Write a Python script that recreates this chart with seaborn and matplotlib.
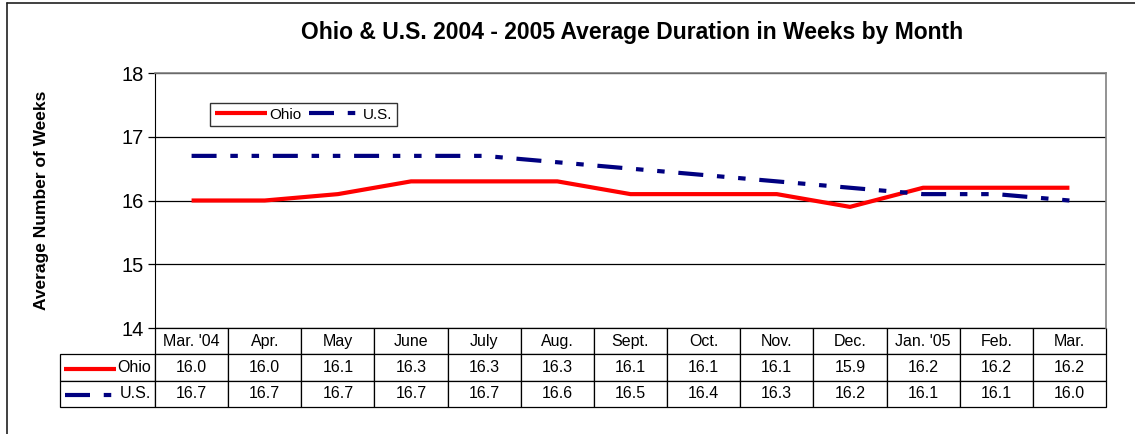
import matplotlib
matplotlib.use('Agg')
import matplotlib.pyplot as plt
import seaborn as sns
import pandas as pd

# chart data
months = ["Mar. '04", 'Apr.', 'May', 'June', 'July', 'Aug.', 'Sept.',
          'Oct.', 'Nov.', 'Dec.', "Jan. '05", 'Feb.', 'Mar.']
ohio = [16.0, 16.0, 16.1, 16.3, 16.3, 16.3, 16.1, 16.1, 16.1, 15.9, 16.2, 16.2, 16.2]
us = [16.7, 16.7, 16.7, 16.7, 16.7, 16.6, 16.5, 16.4, 16.3, 16.2, 16.1, 16.1, 16.0]
yticks = [14, 15, 16, 17, 18]

df = pd.DataFrame({'pos': range(len(months)), 'Ohio': ohio, 'U.S.': us})

sns.set_style('white')
plt.rcParams['font.family'] = ['Liberation Sans', 'DejaVu Sans']
plt.rcParams['text.color'] = 'black'

fig = plt.figure(figsize=(11.35, 4.34), dpi=100)
ax = fig.add_axes([155 / 1135, 1 - 328 / 434, 951 / 1135, 255 / 434])

us_dash = (0, (6, 3.3, 1.8, 3.3, 1.8, 3.3))
sns.lineplot(data=df, x='pos', y='Ohio', ax=ax, color='#ff0000', lw=3,
             label='Ohio', solid_capstyle='butt')
sns.lineplot(data=df, x='pos', y='U.S.', ax=ax, color='#000080', lw=3,
             label='U.S.', linestyle=us_dash, dash_capstyle='butt')

ax.set_xlim(-0.5, len(months) - 0.5)
ax.set_ylim(14, 18)
ax.set_yticks(yticks)
ax.set_xticks([])
ax.set_xlabel('')
ax.set_ylabel('')
ax.grid(axis='y', color='black', lw=0.9)
ax.tick_params(axis='y', left=True, length=5, width=0.9, pad=3,
               labelsize=14.5, colors='black')
for side in ['top', 'right']:
    ax.spines[side].set_color('#808080')
    ax.spines[side].set_linewidth(1.2)
ax.spines['left'].set_color('black')
ax.spines['bottom'].set_visible(False)

leg = ax.legend(loc='upper left', bbox_to_anchor=(0.058, 0.882), ncol=2,
                frameon=True, fancybox=False, edgecolor='black', fontsize=11,
                handlelength=3.4, handletextpad=0.15, columnspacing=0.5,
                borderaxespad=0, borderpad=0.3)
leg.get_frame().set_linewidth(1.0)

# data table below the axes
cell_text = [[''] + months,
             ['Ohio'] + [f'{v:.1f}' for v in ohio],
             ['U.S.'] + [f'{v:.1f}' for v in us]]
col_w = [95] + [951 / len(months)] * len(months)
tbl = ax.table(cellText=cell_text, colWidths=[w / sum(col_w) for w in col_w],
               cellLoc='center', bbox=[-95 / 951, -79 / 255, 1046 / 951, 79 / 255])
tbl.auto_set_font_size(False)
tbl.set_fontsize(11.5)
for (r, c), cell in tbl.get_celld().items():
    cell.set_linewidth(0.9)
    cell.set_edgecolor('black')
    cell.get_text().set_color('black')
    if c == 0:
        cell.get_text().set_horizontalalignment('right')
        cell.PAD = 0.04
tbl[(0, 0)].set_visible(False)

# legend keys inside the table label cells
ax.plot([-91 / 951, -39 / 951], [-41 / 255] * 2, transform=ax.transAxes,
        color='#ff0000', lw=3, clip_on=False, solid_capstyle='butt')
ax.plot([-90 / 951, -40 / 951], [-67 / 255] * 2, transform=ax.transAxes,
        color='#000080', lw=3, clip_on=False, linestyle=us_dash,
        dash_capstyle='butt')

fig.text(632 / 1135, 1 - 32 / 434, 'Ohio & U.S. 2004 - 2005 Average Duration in Weeks by Month',
         ha='center', va='center', fontsize=16.5, fontweight='bold', color='black')
fig.text(42 / 1135, 1 - 200 / 434, 'Average Number of Weeks', rotation=90,
         ha='center', va='center', fontsize=12.5, fontweight='bold', color='black')

# outer chart border (top and left edges visible)
fig.add_artist(plt.Line2D([7 / 1135, 1.0], [1 - 3 / 434] * 2, color='#202020', lw=1.2))
fig.add_artist(plt.Line2D([7 / 1135] * 2, [0, 1 - 3 / 434], color='#202020', lw=1.2))

fig.savefig('out.png', dpi=100)
